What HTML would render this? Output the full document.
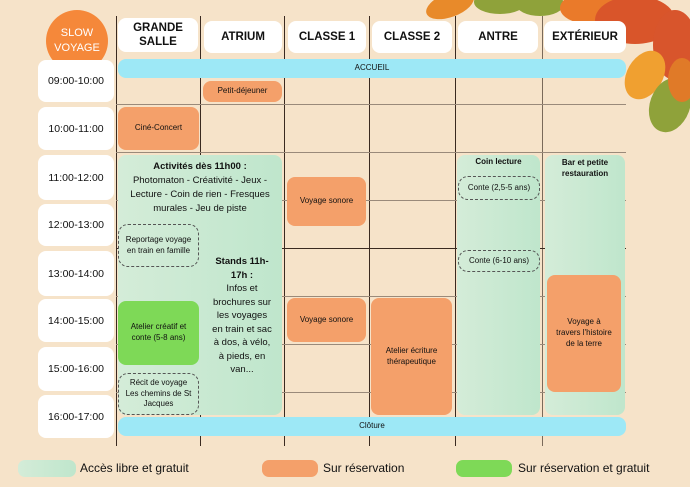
<!DOCTYPE html>
<html><head><meta charset="utf-8"><style>
*{margin:0;padding:0;box-sizing:border-box}
body{width:690px;height:487px;background:#f6e3c9;position:relative;overflow:hidden;font-family:"Liberation Sans","DejaVu Sans",sans-serif;color:#111}
.a{position:absolute}
.vl{position:absolute;width:1px;background:#3a2a20;top:16px;height:430px}
.hl{position:absolute;height:1px;background:#9a8a7a;left:116px;width:510px}
.hd{position:absolute;background:#fff;border-radius:8px;font-weight:bold;font-size:11.5px;display:flex;align-items:center;justify-content:center;text-align:center;line-height:1.25;top:21px;height:32px}
.tm{position:absolute;left:38px;width:76px;background:#fff;border-radius:8px;font-size:10.5px;display:flex;align-items:center;justify-content:center}
.bx{position:absolute;display:flex;align-items:center;justify-content:center;text-align:center;font-size:8px;border-radius:8px;line-height:1.35}
.or{background:#f4a06a}
.mint{background:linear-gradient(90deg,#d4ecd8,#bfe6cc);border-radius:8px}
.ds{border:1px dashed #555;border-radius:10px}
</style></head><body>
<svg class="a" style="left:420px;top:0" width="270" height="150">
<ellipse cx="30" cy="5" rx="25" ry="12" fill="#e88a2a" transform="rotate(-20 30 5)"/>
<ellipse cx="80" cy="2" rx="26" ry="12" fill="#8fa23a"/>
<ellipse cx="120" cy="4" rx="24" ry="12" fill="#8fa23a"/>
<ellipse cx="170" cy="8" rx="30" ry="16" fill="#ea7a2a"/>
<ellipse cx="215" cy="20" rx="40" ry="24" fill="#d9552a"/>
<ellipse cx="255" cy="45" rx="22" ry="35" fill="#d8552c"/>
<ellipse cx="225" cy="75" rx="18" ry="26" fill="#f0a030" transform="rotate(30 225 75)"/>
<ellipse cx="250" cy="105" rx="20" ry="28" fill="#8fa23a" transform="rotate(20 250 105)"/>
<ellipse cx="262" cy="80" rx="14" ry="22" fill="#e07a28"/>
</svg>
<div class="a" style="left:46px;top:10px;width:62px;height:62px;border-radius:50%;background:#f5883a;color:#fff;font-size:11px;text-align:center;line-height:15px;padding-top:16px">SLOW<br>VOYAGE</div>
<div class="vl" style="left:116px"></div><div class="vl" style="left:200px"></div><div class="vl" style="left:284px"></div><div class="vl" style="left:369px"></div><div class="vl" style="left:455px"></div><div class="vl" style="left:542px;background:#7a6a5a"></div>
<div class="hl" style="top:104px"></div><div class="hl" style="top:152px"></div><div class="hl" style="top:200px"></div><div class="hl" style="top:248px;background:#3a2a20"></div><div class="hl" style="top:296px"></div><div class="hl" style="top:344px"></div><div class="hl" style="top:392px"></div>
<div class="hd" style="left:118px;width:80px;top:18px;height:34px">GRANDE<br>SALLE</div>
<div class="hd" style="left:204px;width:78px">ATRIUM</div>
<div class="hd" style="left:288px;width:78px">CLASSE 1</div>
<div class="hd" style="left:372px;width:80px">CLASSE 2</div>
<div class="hd" style="left:458px;width:80px">ANTRE</div>
<div class="hd" style="left:544px;width:82px">EXTÉRIEUR</div>
<div class="tm" style="top:60px;height:42px">09:00-10:00</div>
<div class="tm" style="top:107px;height:43px">10:00-11:00</div>
<div class="tm" style="top:155px;height:45px">11:00-12:00</div>
<div class="tm" style="top:204px;height:42px">12:00-13:00</div>
<div class="tm" style="top:251px;height:45px">13:00-14:00</div>
<div class="tm" style="top:299px;height:43px">14:00-15:00</div>
<div class="tm" style="top:347px;height:44px">15:00-16:00</div>
<div class="tm" style="top:395px;height:43px">16:00-17:00</div>
<div class="bx" style="left:118px;top:59px;width:508px;height:19px;background:#9de8f6">ACCUEIL</div>
<div class="bx" style="left:118px;top:417px;width:508px;height:19px;background:#9de8f6">Clôture</div>
<div class="bx or" style="left:203px;top:81px;width:79px;height:21px">Petit-déjeuner</div>
<div class="bx or" style="left:118px;top:107px;width:81px;height:43px">Ciné-Concert</div>
<div class="a mint" style="left:118px;top:155px;width:164px;height:260px"></div>
<div class="a" style="left:118px;top:160px;width:164px;text-align:center;font-size:9.5px;line-height:14px"><b>Activités dès 11h00 :</b><br>Photomaton - Créativité - Jeux -<br>Lecture - Coin de rien - Fresques<br>murales - Jeu de piste</div>
<div class="bx ds" style="left:118px;top:224px;width:81px;height:43px">Reportage voyage<br>en train en famille</div>
<div class="a" style="left:203px;top:255px;width:78px;text-align:center;font-size:9.5px;line-height:13.5px"><b>Stands 11h-<br>17h :</b><br>Infos et<br>brochures sur<br>les voyages<br>en train et sac<br>à dos, à vélo,<br>à pieds, en<br>van...</div>
<div class="bx" style="left:118px;top:301px;width:81px;height:64px;background:#7ed957">Atelier créatif et<br>conte (5-8 ans)</div>
<div class="bx ds" style="left:118px;top:373px;width:81px;height:42px">Récit de voyage<br>Les chemins de St<br>Jacques</div>
<div class="bx or" style="left:287px;top:177px;width:79px;height:49px">Voyage sonore</div>
<div class="bx or" style="left:287px;top:298px;width:79px;height:44px">Voyage sonore</div>
<div class="bx or" style="left:371px;top:298px;width:81px;height:117px">Atelier écriture<br>thérapeutique</div>
<div class="a mint" style="left:457px;top:155px;width:83px;height:260px"></div>
<div class="a" style="left:457px;top:157px;width:83px;text-align:center;font-size:8px;font-weight:bold">Coin lecture</div>
<div class="bx ds" style="left:458px;top:176px;width:82px;height:24px">Conte (2,5-5 ans)</div>
<div class="bx ds" style="left:458px;top:250px;width:82px;height:22px">Conte (6-10 ans)</div>
<div class="a mint" style="left:545px;top:155px;width:80px;height:260px"></div>
<div class="a" style="left:545px;top:157px;width:80px;text-align:center;font-size:8px;font-weight:bold;line-height:11px">Bar et petite<br>restauration</div>
<div class="bx or" style="left:547px;top:275px;width:74px;height:117px">Voyage à<br>travers l'histoire<br>de la terre</div>
<div class="a" style="left:18px;top:460px;width:58px;height:17px;border-radius:7px;background:linear-gradient(90deg,#d4ecd8,#bfe6cc)"></div>
<div class="a" style="left:80px;top:461px;font-size:12px">Accès libre et gratuit</div>
<div class="a" style="left:262px;top:460px;width:56px;height:17px;border-radius:7px;background:#f4a06a"></div>
<div class="a" style="left:323px;top:461px;font-size:12px">Sur réservation</div>
<div class="a" style="left:456px;top:460px;width:56px;height:17px;border-radius:7px;background:#7ed957"></div>
<div class="a" style="left:518px;top:461px;font-size:12px">Sur réservation et gratuit</div>
</body></html>
